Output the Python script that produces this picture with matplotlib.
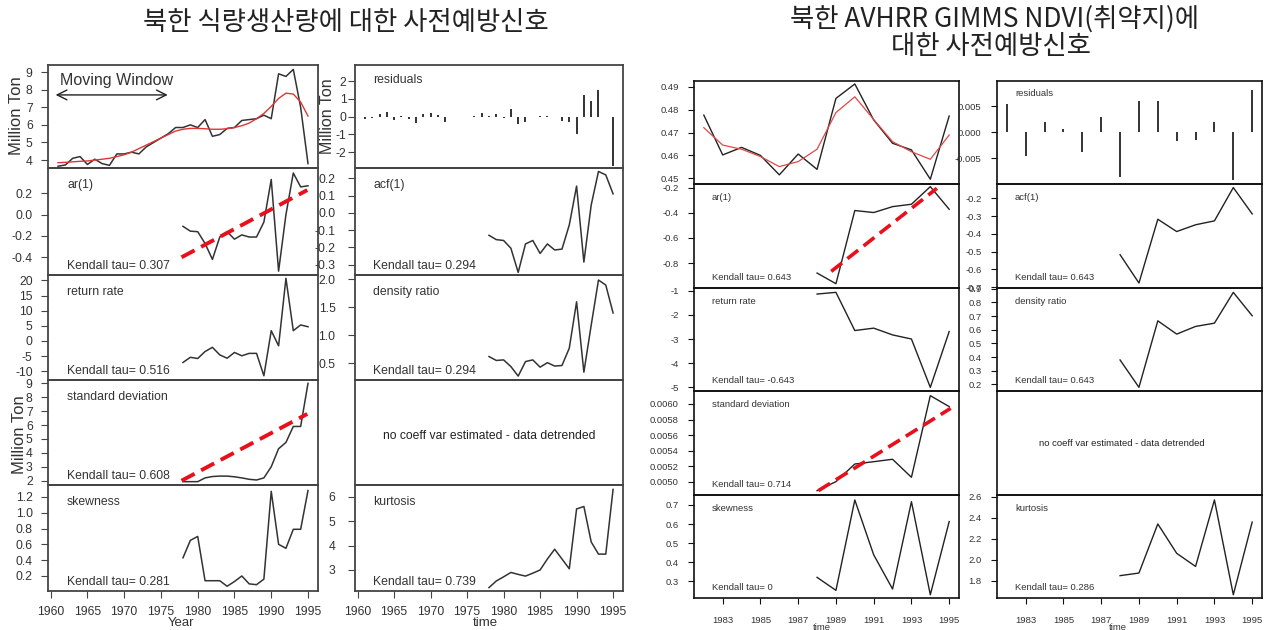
import matplotlib
matplotlib.use('Agg')
import matplotlib.pyplot as plt

# ---------------- data: North Korea food production ----------------
food_years = list(range(1961, 1996))
food_prod = [3.65, 3.72, 4.10, 4.20, 3.75, 4.05, 3.80, 3.70, 4.35, 4.35, 4.45, 4.35,
             4.75, 5.00, 5.25, 5.50, 5.85, 5.85, 6.00, 5.85, 6.30, 5.35, 5.45, 5.80,
             5.85, 6.25, 6.30, 6.35, 6.55, 6.35, 8.90, 8.75, 9.15, 7.00, 3.80]
food_smooth = [3.85, 3.87, 3.90, 3.93, 3.95, 4.00, 4.05, 4.10, 4.20, 4.30, 4.45, 4.65,
               4.85, 5.05, 5.25, 5.45, 5.65, 5.75, 5.80, 5.80, 5.78, 5.75, 5.75, 5.78,
               5.85, 5.95, 6.10, 6.35, 6.65, 7.05, 7.50, 7.80, 7.75, 7.30, 6.50]
food_resid = [-0.15, -0.10, 0.15, 0.28, -0.20, 0.05, -0.15, -0.35, 0.15, 0.22, 0.12, -0.30,
              0.00, 0.00, 0.00, 0.02, 0.20, 0.02, 0.15, -0.08, 0.45, -0.42, -0.30, 0.00,
              0.05, 0.05, 0.00, -0.22, -0.30, -1.00, 1.23, 0.90, 1.50, 0.00, -2.80]
food_ind_years = list(range(1978, 1996))
food_ar1 = [-0.11, -0.155, -0.16, -0.27, -0.42, -0.21, -0.16, -0.23, -0.19, -0.21, -0.21,
            -0.07, 0.33, -0.53, 0.00, 0.39, 0.26, 0.27]
food_acf1 = [-0.13, -0.155, -0.16, -0.205, -0.345, -0.18, -0.16, -0.235, -0.18, -0.215,
             -0.21, -0.07, 0.155, -0.285, 0.045, 0.24, 0.22, 0.11]
food_return = [-7.1, -5.4, -5.8, -3.5, -2.1, -4.6, -5.7, -3.8, -4.9, -4.1, -4.1, -11.5,
               3.4, -1.6, 20.7, 3.4, 5.3, 4.7]
food_density = [0.62, 0.55, 0.56, 0.44, 0.27, 0.53, 0.56, 0.43, 0.51, 0.45, 0.46, 0.77,
                1.60, 0.34, 1.18, 1.99, 1.90, 1.40]
food_sd = [1.93, 1.93, 1.93, 2.20, 2.30, 2.33, 2.33, 2.28, 2.20, 2.10, 2.05, 2.20, 3.00,
           4.30, 4.75, 5.90, 5.90, 9.00]
food_skew = [0.43, 0.65, 0.70, 0.14, 0.14, 0.14, 0.07, 0.13, 0.20, 0.10, 0.09, 0.16,
             1.27, 0.60, 0.55, 0.79, 0.79, 1.28]
food_kurt = [2.28, 2.55, 2.72, 2.90, 2.82, 2.75, 2.87, 3.00, 3.45, 3.85, 3.45, 3.05,
             5.50, 5.60, 4.15, 3.65, 3.65, 6.30]
food_trend_years = [1977.8, 1994.9]
food_ar1_trend = [-0.40, 0.23]
food_sd_trend = [2.00, 6.80]
food_tau = ["0.307", "0.516", "0.608", "0.281", "0.294", "0.294", "0.739"]

# ---------------- data: AVHRR GIMMS NDVI ----------------
ndvi_years = list(range(1982, 1996))
ndvi = [0.4776, 0.4602, 0.4635, 0.4600, 0.4515, 0.4606, 0.4539, 0.4849, 0.4912,
        0.4755, 0.4653, 0.4624, 0.4496, 0.4772]
ndvi_smooth = [0.4721, 0.4645, 0.4627, 0.4595, 0.4551, 0.4573, 0.4627, 0.4787, 0.4856,
               0.4757, 0.4660, 0.4616, 0.4583, 0.4689]
ndvi_resid = [0.0054, -0.00455, 0.0019, 0.0006, -0.0037, 0.0030, -0.00865, 0.0060,
              0.0060, -0.0016, -0.0015, 0.0019, -0.0092, 0.0081]
ndvi_ind_years = list(range(1988, 1996))
ndvi_ar1 = [-0.879, -0.964, -0.382, -0.398, -0.351, -0.332, -0.192, -0.372]
ndvi_acf1 = [-0.517, -0.676, -0.318, -0.387, -0.349, -0.327, -0.140, -0.288]
ndvi_return = [-1.14, -1.07, -2.65, -2.55, -2.83, -3.00, -5.00, -2.69]
ndvi_density = [0.379, 0.179, 0.665, 0.568, 0.624, 0.648, 0.873, 0.702]
ndvi_sd = [0.004884, 0.0050, 0.005227, 0.005257, 0.005288, 0.005056, 0.006107, 0.005966]
ndvi_skew = [0.321, 0.253, 0.726, 0.439, 0.260, 0.717, 0.230, 0.613]
ndvi_kurt = [1.847, 1.872, 2.340, 2.060, 1.935, 2.569, 1.665, 2.358]
ndvi_ar1_trend_years = [1988.75, 1994.35]
ndvi_ar1_trend = [-0.866, -0.205]
ndvi_sd_trend_years = [1988.07, 1995.08]
ndvi_sd_trend = [0.004884, 0.005944]
ndvi_tau = ["0.643", "-0.643", "0.714", "0", "0.643", "0.643", "0.286"]

# ---------------- figure ----------------
W, H = 1268, 630
plt.rcParams['font.family'] = ['Liberation Sans', 'DejaVu Sans']
fig = plt.figure(figsize=(W / 100, H / 100), dpi=100)


def add_ax(l, t, r, b):
    return fig.add_axes([l / W, 1 - b / H, (r - l) / W, (b - t) / H])


def ftext(x, y, s, **kw):
    return fig.text(x / W, 1 - y / H, s, **kw)


def panel(box, xlim, ylim, yt, ytl, cfg, xt=None, xtl=None, pad=None):
    ax = add_ax(*box)
    ax.set_xlim(xlim)
    ax.set_ylim(ylim)
    ax.set_facecolor('none')
    if yt is None:
        ax.set_yticks([])
    else:
        ax.set_yticks(yt)
        ax.set_yticklabels(ytl)
    ax.tick_params(axis='y', direction='out', length=cfg['tl'], width=0.8,
                   color=cfg['sc'], labelcolor=cfg['tc'], labelsize=cfg['fs'],
                   pad=cfg['pad'] if pad is None else pad)
    if xt is None:
        ax.set_xticks([])
    else:
        ax.set_xticks(xt)
        ax.set_xticklabels(xtl)
        ax.tick_params(axis='x', direction='out', length=cfg['tl'], width=0.8,
                       color=cfg['sc'], labelcolor=cfg['tc'], labelsize=cfg['fs'],
                       pad=cfg['xpad'])
    for s in ax.spines.values():
        s.set_color(cfg['sc'])
        s.set_linewidth(cfg['slw'])
    return ax


# ======== Left group: food production ========
cfgL = dict(fs=8.7, tl=5, pad=6, xpad=6, sc='#444444', tc='#333333', slw=1.3)
padL2 = 9.0
lc = '#333333'
fxlim = (1959.64, 1996.36)
c1 = (48, 318)
c2 = (355, 623)
rowsL = [(65, 168), (168, 275), (275, 380), (380, 485), (485, 591)]
xt_food = [1960, 1965, 1970, 1975, 1980, 1985, 1990, 1995]
xtl_food = [str(v) for v in xt_food]


def boxL(col, row):
    return (col[0], rowsL[row][0], col[1], rowsL[row][1])


# top left: data + smooth
ax = panel(boxL(c1, 0), fxlim, (3.55, 9.4), [4, 5, 6, 7, 8, 9], ['4', '5', '6', '7', '8', '9'], cfgL)
ax.plot(food_years, food_prod, color=lc, lw=1.1)
ax.plot(food_years, food_smooth, color='#e03535', lw=1.0)
ax.annotate('', xy=(1960.3, 7.7), xytext=(1976.3, 7.7),
            arrowprops=dict(arrowstyle='<->, head_length=0.7, head_width=0.35', lw=1.0, color='#222222'))
ftext(60, 81, 'Moving Window', fontsize=11.5, color='#333333', va='center', ha='left')
ftext(17, 116, 'Million Ton', fontsize=12, color='#333333', rotation=90, va='center', ha='center')

# ar(1)
ax = panel(boxL(c1, 1), fxlim, (-0.566, 0.437), [-0.4, -0.2, 0.0, 0.2], ['-0.4', '-0.2', '0.0', '0.2'], cfgL)
ax.plot(food_ind_years, food_ar1, color=lc, lw=1.1)
ax.plot(food_trend_years, food_ar1_trend, color='#e8101a', lw=2.8, dashes=(3.8, 1.9))

# return rate
ax = panel(boxL(c1, 2), fxlim, (-12.9, 21.8), [-10, -5, 0, 5, 10, 15, 20],
           ['-10', '-5', '0', '5', '10', '15', '20'], cfgL)
ax.plot(food_ind_years, food_return, color=lc, lw=1.1)

# standard deviation
ax = panel(boxL(c1, 3), fxlim, (1.69, 9.24), [2, 3, 4, 5, 6, 7, 8, 9],
           ['2', '3', '4', '5', '6', '7', '8', '9'], cfgL)
ax.plot(food_ind_years, food_sd, color=lc, lw=1.1)
ax.plot(food_trend_years, food_sd_trend, color='#e8101a', lw=2.8, dashes=(3.8, 1.9))
ftext(20, 435, 'Million Ton', fontsize=12, color='#333333', rotation=90, va='center', ha='center')

# skewness
ax = panel(boxL(c1, 4), fxlim, (0.01, 1.35), [0.2, 0.4, 0.6, 0.8, 1.0, 1.2],
           ['0.2', '0.4', '0.6', '0.8', '1.0', '1.2'], cfgL, xt_food, xtl_food)
ax.plot(food_ind_years, food_skew, color=lc, lw=1.1)
ftext(181, 623, 'Year', fontsize=9.5, color='#333333', ha='center', va='center')

# residuals
ax = panel(boxL(c2, 0), fxlim, (-2.9, 2.92), [-2, -1, 0, 1, 2], ['-2', '-1', '0', '1', '2'], cfgL,
           pad=1.0)
ax.vlines(food_years, 0, food_resid, color='#222222', lw=1.3)
ftext(327, 116, 'Million Ton', fontsize=11.5, color='#333333', rotation=90, va='center', ha='center')

# acf(1)
ax = panel(boxL(c2, 1), fxlim, (-0.36, 0.26), [-0.3, -0.2, -0.1, 0.0, 0.1, 0.2],
           ['-0.3', '-0.2', '-0.1', '0.0', '0.1', '0.2'], cfgL, pad=padL2)
ax.plot(food_ind_years, food_acf1, color=lc, lw=1.1)

# density ratio
ax = panel(boxL(c2, 2), fxlim, (0.2, 2.08), [0.5, 1.0, 1.5, 2.0], ['0.5', '1.0', '1.5', '2.0'], cfgL,
           pad=padL2)
ax.plot(food_ind_years, food_density, color=lc, lw=1.1)

# coeff var
ax = panel(boxL(c2, 3), fxlim, (0, 1), None, None, cfgL)
ftext((c2[0] + c2[1]) / 2, 436, 'no coeff var estimated - data detrended', fontsize=8.7,
      color='#222222', ha='center', va='center')

# kurtosis
ax = panel(boxL(c2, 4), fxlim, (2.14, 6.48), [3, 4, 5, 6], ['3', '4', '5', '6'], cfgL, xt_food, xtl_food,
           pad=padL2)
ax.plot(food_ind_years, food_kurt, color=lc, lw=1.1)
ftext(485, 623, 'time', fontsize=9.5, color='#333333', ha='center', va='center')

namesL1 = ['ar(1)', 'return rate', 'standard deviation', 'skewness']
namesL2 = ['acf(1)', 'density ratio', None, 'kurtosis']
tauL1 = [food_tau[0], food_tau[1], food_tau[2], food_tau[3]]
tauL2 = [food_tau[4], food_tau[5], None, food_tau[6]]
for i in range(4):
    t, b = rowsL[i + 1]
    ftext(67, t + 17, namesL1[i], fontsize=8.8, color='#333333', va='center')
    ftext(67, b - 9, 'Kendall tau= ' + tauL1[i], fontsize=8.8, color='#333333', va='center')
    if namesL2[i]:
        ftext(373, t + 17, namesL2[i], fontsize=8.8, color='#333333', va='center')
        ftext(373, b - 9, 'Kendall tau= ' + tauL2[i], fontsize=8.8, color='#333333', va='center')
ftext(373, 80, 'residuals', fontsize=8.8, color='#333333', va='center')

# ======== Right group: NDVI ========
cfgR = dict(fs=6.8, tl=4, pad=7, xpad=9, sc='#111111', tc='#333333', slw=1.2)
lcR = '#222222'
nxlim = (1981.48, 1995.52)
d1 = (694, 959)
d2 = (997, 1262)
rowsR = [(81, 184), (184, 288), (288, 391), (391, 495), (495, 598)]
xt_ndvi = [1983, 1985, 1987, 1989, 1991, 1993, 1995]
xtl_ndvi = [str(v) for v in xt_ndvi]


def boxR(col, row):
    return (col[0], rowsR[row][0], col[1], rowsR[row][1])


ax = panel(boxR(d1, 0), nxlim, (0.4475, 0.4925), [0.45, 0.46, 0.47, 0.48, 0.49],
           ['0.45', '0.46', '0.47', '0.48', '0.49'], cfgR)
ax.plot(ndvi_years, ndvi, color=lcR, lw=1.0)
ax.plot(ndvi_years, ndvi_smooth, color='#e04848', lw=0.9)

ax = panel(boxR(d1, 1), nxlim, (-0.998, -0.171), [-0.8, -0.6, -0.4, -0.2],
           ['-0.8', '-0.6', '-0.4', '-0.2'], cfgR)
ax.plot(ndvi_ind_years, ndvi_ar1, color=lcR, lw=1.0)
ax.plot(ndvi_ar1_trend_years, ndvi_ar1_trend, color='#e8101a', lw=2.6, dashes=(3.8, 1.9))

ax = panel(boxR(d1, 2), nxlim, (-5.15, -0.89), [-5, -4, -3, -2, -1],
           ['-5', '-4', '-3', '-2', '-1'], cfgR)
ax.plot(ndvi_ind_years, ndvi_return, color=lcR, lw=1.0)

ax = panel(boxR(d1, 3), nxlim, (0.004828, 0.006167),
           [0.0050, 0.0052, 0.0054, 0.0056, 0.0058, 0.0060],
           ['0.0050', '0.0052', '0.0054', '0.0056', '0.0058', '0.0060'], cfgR)
ax.plot(ndvi_ind_years, ndvi_sd, color=lcR, lw=1.0)
ax.plot(ndvi_sd_trend_years, ndvi_sd_trend, color='#e8101a', lw=2.6, dashes=(3.8, 1.9))

ax = panel(boxR(d1, 4), nxlim, (0.213, 0.752), [0.3, 0.4, 0.5, 0.6, 0.7],
           ['0.3', '0.4', '0.5', '0.6', '0.7'], cfgR, xt_ndvi, xtl_ndvi)
ax.plot(ndvi_ind_years, ndvi_skew, color=lcR, lw=1.0)
ftext(822, 627, 'time', fontsize=6.8, color='#333333', ha='center', va='center')

ax = panel(boxR(d2, 0), nxlim, (-0.00994, 0.00987), [-0.005, 0.0, 0.005],
           ['-0.005', '0.000', '0.005'], cfgR)
ax.vlines(ndvi_years, 0, ndvi_resid, color='#111111', lw=1.2)

ax = panel(boxR(d2, 1), nxlim, (-0.704, -0.12), [-0.7, -0.6, -0.5, -0.4, -0.3, -0.2],
           ['-0.7', '-0.6', '-0.5', '-0.4', '-0.3', '-0.2'], cfgR)
ax.plot(ndvi_ind_years, ndvi_acf1, color=lcR, lw=1.0)

ax = panel(boxR(d2, 2), nxlim, (0.152, 0.905), [0.2, 0.3, 0.4, 0.5, 0.6, 0.7, 0.8, 0.9],
           ['0.2', '0.3', '0.4', '0.5', '0.6', '0.7', '0.8', '0.9'], cfgR)
ax.plot(ndvi_ind_years, ndvi_density, color=lcR, lw=1.0)

ax = panel(boxR(d2, 3), nxlim, (0, 1), None, None, cfgR)
ftext((d2[0] + d2[1]) / 2 - 8, 444, 'no coeff var estimated - data detrended', fontsize=6.8,
      color='#222222', ha='center', va='center')

ax = panel(boxR(d2, 4), nxlim, (1.634, 2.616), [1.8, 2.0, 2.2, 2.4, 2.6],
           ['1.8', '2.0', '2.2', '2.4', '2.6'], cfgR, xt_ndvi, xtl_ndvi)
ax.plot(ndvi_ind_years, ndvi_kurt, color=lcR, lw=1.0)
ftext(1118, 627, 'time', fontsize=6.8, color='#333333', ha='center', va='center')

namesR1 = ['ar(1)', 'return rate', 'standard deviation', 'skewness']
namesR2 = ['acf(1)', 'density ratio', None, 'kurtosis']
tauR1 = [ndvi_tau[0], ndvi_tau[1], ndvi_tau[2], ndvi_tau[3]]
tauR2 = [ndvi_tau[4], ndvi_tau[5], None, ndvi_tau[6]]
for i in range(4):
    t, b = rowsR[i + 1]
    ftext(712, t + 13.5, namesR1[i], fontsize=6.8, color='#333333', va='center')
    ftext(712, b - 10.5, 'Kendall tau= ' + tauR1[i], fontsize=6.8, color='#333333', va='center')
    if namesR2[i]:
        ftext(1015, t + 13.5, namesR2[i], fontsize=6.8, color='#333333', va='center')
        ftext(1015, b - 10.5, 'Kendall tau= ' + tauR2[i], fontsize=6.8, color='#333333', va='center')
ftext(1015, 93, 'residuals', fontsize=6.8, color='#333333', va='center')

# ======== titles ========
kfont = ['Noto Sans CJK KR', 'DejaVu Sans']
tkw = dict(fontsize=19, family=kfont, weight='light', color='#222222', ha='center', va='center')
ftext(346, 22, '북한 식량생산량에 대한 사전예방신호', **tkw)
ftext(994, 19, '북한 AVHRR GIMMS NDVI(취약지)에', **tkw)
ftext(991, 46, '대한 사전예방신호', **tkw)

fig.savefig('out.png', dpi=100)
